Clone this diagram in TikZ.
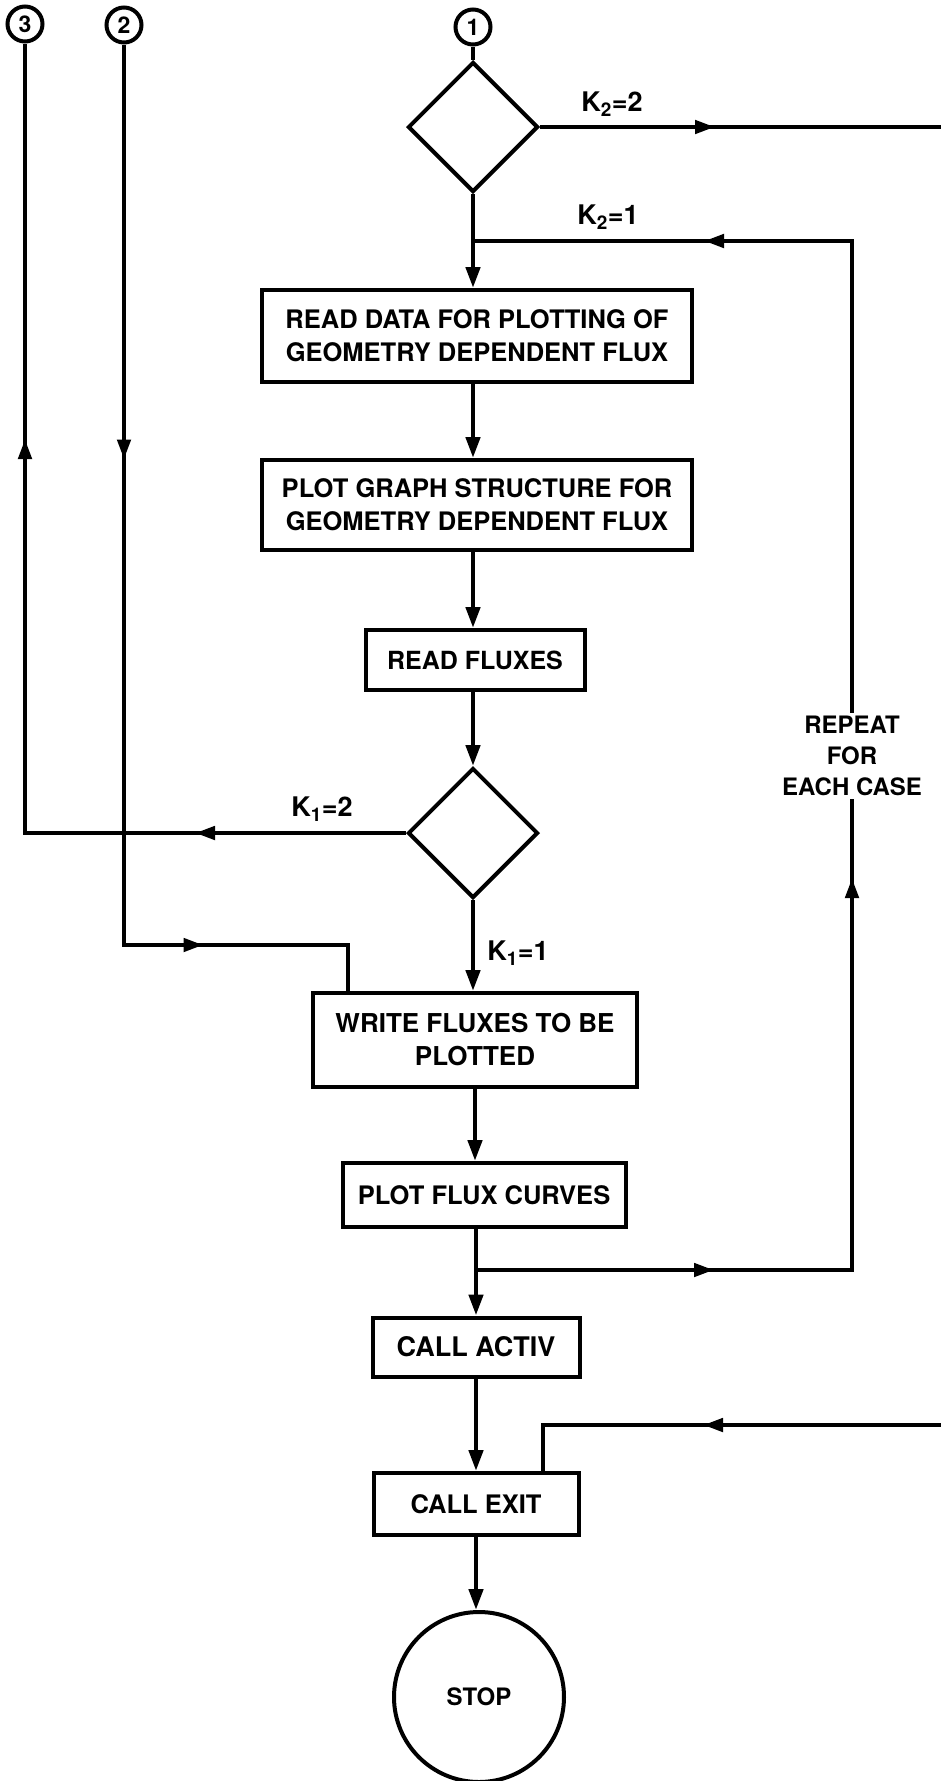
\documentclass[tikz,border=0pt]{standalone}
\usepackage{fontspec}
\setsansfont{TeX Gyre Heros}
\usetikzlibrary{arrows.meta,shapes.geometric,decorations.markings}
\begin{document}
\begin{tikzpicture}[x=1pt,y=-1pt,
  conn/.style={line width=4.5pt},
  tip/.style={-{Triangle[length=21pt,width=14pt]}},
  midtip/.style={postaction={decorate,decoration={markings,mark=at position #1 with {\arrow{Triangle[length=20pt,width=13pt]}}}}},
  pbox/.style={draw,line width=4pt,rectangle,align=center,inner sep=0pt},
  dec/.style={draw,diamond,line width=4pt,minimum width=130pt,minimum height=130pt,inner sep=0pt},
  onpage/.style={draw,circle,line width=4pt,minimum size=35pt,inner sep=0pt,font=\sffamily\bfseries\fontsize{23}{23}\selectfont},
  lab/.style={font=\sffamily\bfseries\fontsize{27}{27}\selectfont,inner sep=0pt},
  fsz/.style 2 args={font=\sffamily\bfseries\fontsize{#1}{#2}\selectfont}
]
\useasboundingbox (0,0) rectangle (941,1781);
\fill[white] (0,0) rectangle (941,1781);

% off-page connectors
\node[onpage] (c3) at (25,24) {3};
\node[onpage] (c2) at (124,25) {2};
\node[onpage] (c1) at (473,27) {1};

% main column
\node[dec] (d1) at (473,127) {};
\node[pbox,fsz={25.5}{33},minimum width=430pt,minimum height=92pt] (b1) at (477,336) {READ DATA FOR PLOTTING OF\\GEOMETRY DEPENDENT FLUX};
\node[pbox,fsz={25.5}{33},minimum width=430pt,minimum height=90pt] (b2) at (477,505) {PLOT GRAPH STRUCTURE FOR\\GEOMETRY DEPENDENT FLUX};
\node[pbox,fsz={25}{25},minimum width=219pt,minimum height=60pt] (b3) at (475,660) {READ FLUXES};
\node[dec] (d2) at (473,833) {};
\node[pbox,fsz={26}{33},minimum width=324pt,minimum height=94pt] (b4) at (475,1040) {WRITE FLUXES TO BE\\PLOTTED};
\node[pbox,fsz={25.5}{25.5},minimum width=283pt,minimum height=64pt] (b5) at (484,1195) {PLOT FLUX CURVES};
\node[pbox,fsz={27}{27},minimum width=207pt,minimum height=59pt] (b6) at (476,1347) {CALL ACTIV};
\node[pbox,fsz={25.5}{25.5},minimum width=205pt,minimum height=62pt] (b7) at (476,1504) {CALL EXIT};
\node[draw,circle,line width=4pt,minimum size=170pt,inner sep=0pt,fsz={24}{24}] (stop) at (479,1697) {STOP};

% coordinates
\coordinate (jA) at (473,241);
\coordinate (jB) at (476,1270);
\coordinate (rT) at (852,241);
\coordinate (rB) at (852,1270);
\coordinate (eR1) at (941,127);
\coordinate (lL) at (25,833);
\coordinate (l2a) at (124,945);
\coordinate (l2b) at (348,945);
\coordinate (eR2) at (941,1425);
\coordinate (l8) at (543,1425);

% main flow
\draw[conn] (c1) -- (d1.north);
\draw[conn,tip] (d1.south) -- (d1.south |- b1.north);
\draw[conn,tip] (b1.south -| d1.south) -- (d1.south |- b2.north);
\draw[conn,tip] (b2.south -| d1.south) -- (d1.south |- b3.north);
\draw[conn,tip] (b3.south -| d2.north) -- (d2.north);
\draw[conn,tip] (d2.south) -- (d2.south |- b4.north);
\draw[conn,tip] (b4.south) -- (b4.south |- b5.north);
\draw[conn,tip] (b5.south -| b6.north) -- (b6.north);
\draw[conn,tip] (b6.south) -- (b7.north);
\draw[conn,tip] (b7.south) -- (b7.south |- stop.north);

% K2 = 2 exit to the right
\draw[conn,midtip=175pt] (d1.east) -- (eR1);
\node[lab] (k22) at (612,104) {K\textsubscript{2}=2};

% repeat loop
\draw[conn,midtip=238pt,midtip=768pt,midtip=1553pt] (jB) -- (rB) -- (rT) -- (jA);
\node[lab] (k21) at (608,217) {K\textsubscript{2}=1};
\node[fill=white,align=center,inner sep=3pt,fsz={24}{31}] (rep) at (852,756) {REPEAT\\FOR\\EACH CASE};

% K1 = 2 to connector 3
\draw[conn,midtip=211pt,midtip=775pt] (d2.west) -- (lL) -- (c3.south);
\node[lab] (k12) at (322,809) {K\textsubscript{1}=2};

% connector 2 into write box
\draw[conn,midtip=415pt,midtip=980pt] (c2.south) -- (l2a) -- (l2b) -- (l2b |- b4.north);
\node[lab] (k11) at (518,953) {K\textsubscript{1}=1};

% incoming from right into CALL EXIT
\draw[conn,midtip=238pt] (eR2) -- (l8) -- (l8 |- b7.north);
\end{tikzpicture}
\end{document}
